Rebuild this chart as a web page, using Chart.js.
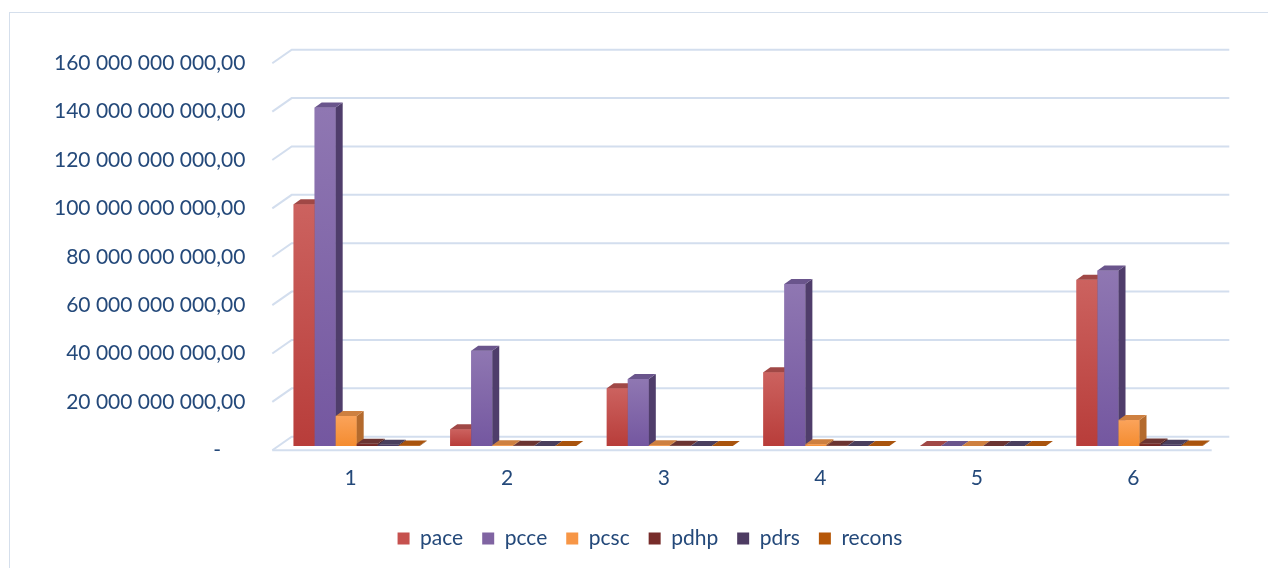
<!DOCTYPE html>
<html><head><meta charset="utf-8">
<script src="https://cdn.jsdelivr.net/npm/chart.js@4"></script>
<style>html,body{margin:0;padding:0;background:#fff;overflow:hidden}</style>
</head><body>
<canvas id="c" width="1268" height="568"></canvas>
<script>
// ---- data ----
const categories = ['1', '2', '3', '4', '5', '6'];
const seriesNames = ['pace', 'pcce', 'pcsc', 'pdhp', 'pdrs', 'recons'];
const pace   = [100.0e9, 6.9e9, 23.9e9, 30.5e9, 0, 68.7e9];
const pcce   = [140.0e9, 39.4e9, 27.7e9, 67.0e9, 0, 72.6e9];
const pcsc   = [12.4e9, 0.3e9, 0.3e9, 0.7e9, 0, 10.7e9];
const pdhp   = [0.9e9, 0.1e9, 0.1e9, 0.1e9, 0, 1.0e9];
const pdrs   = [0.5e9, 0.05e9, 0.05e9, 0.05e9, 0, 0.5e9];
const recons = [0.2e9, 0.05e9, 0.05e9, 0.05e9, 0, 0.2e9];
const yTicks = [0, 20e9, 40e9, 60e9, 80e9, 100e9, 120e9, 140e9, 160e9];
const seriesValues = [pace, pcce, pcsc, pdhp, pdrs, recons];

// ---- styles ----
const legendColors = ['#C6514E', '#8064A2', '#F79646', '#772C2A', '#4D3B62', '#B65708'];
const frontLight   = ['#CC625F', '#8F77B2', '#FBA35A', '#80302D', '#54416D', '#BE5E0E'];
const frontDark    = ['#B83D3A', '#7457A0', '#F48C30', '#6E2624', '#45355C', '#AE5208'];
const sideColors   = ['#8E3533', '#4F3D6B', '#B46A2D', '#4F1E1C', '#30253F', '#7A3A05'];
const topColors    = ['#A04846', '#6A558C', '#CE8040', '#6B3432', '#4A3F5E', '#A9540E'];
const TEXT = '#24497A';
const GRID = '#D3DEEE';
const FONT = {family: 'Lato', size: 21};
const DX = 7, DY = 5;
const LEGEND_SHIFT = 41;

function fmt(v) {
  if (v === 0) return '-\u2007\u2007';
  const s = Math.round(v).toString().replace(/\B(?=(\d{3})+(?!\d))/g, ' ');
  return s + ',00';
}

function grad(i) {
  return (c) => {
    if (c.type !== 'data' || !c.chart.scales || !c.chart.scales.y || !c.parsed) return legendColors[i];
    const ys = c.chart.scales.y;
    const yT = ys.getPixelForValue(c.parsed.y);
    const yB = ys.getPixelForValue(0);
    if (!Number.isFinite(yT) || !Number.isFinite(yB)) return legendColors[i];
    const g = c.chart.ctx.createLinearGradient(0, yT, 0, Math.max(yB, yT + 1));
    g.addColorStop(0, frontLight[i]);
    g.addColorStop(1, frontDark[i]);
    return g;
  };
}

const frame = {
  id: 'frame',
  afterLayout(chart) {
    if (chart.legend) {
      chart.legend.left += LEGEND_SHIFT;
      chart.legend.right += LEGEND_SHIFT;
    }
  },
  beforeDraw(chart) {
    const ctx = chart.ctx;
    ctx.save();
    ctx.fillStyle = '#fff';
    ctx.fillRect(0, 0, chart.width, chart.height);
    ctx.strokeStyle = '#D5DFEC';
    ctx.lineWidth = 1;
    ctx.strokeRect(9.5, 12.5, 1300, 600);
    ctx.restore();
  },
  beforeDatasetsDraw(chart) {
    const ctx = chart.ctx, ys = chart.scales.y, a = chart.chartArea;
    ctx.save();
    ctx.strokeStyle = GRID;
    ctx.lineWidth = 2;
    yTicks.forEach(v => {
      const y = ys.getPixelForValue(v);
      ctx.beginPath();
      ctx.moveTo(a.left - 6.1, y + 4.3);
      ctx.lineTo(a.left + 13.3, y - 9.3);
      ctx.lineTo(a.right + 11.5, y - 9.3);
      ctx.stroke();
    });
    const y0 = ys.getPixelForValue(0);
    ctx.beginPath();
    ctx.moveTo(a.left - 6.1, y0 + 4.3);
    ctx.lineTo(a.right - 6.1, y0 + 4.3);
    ctx.stroke();
    ctx.restore();
  },
  afterDatasetsDraw(chart) {
    const ctx = chart.ctx;
    const base = chart.scales.y.getPixelForValue(0);
    ctx.save();
    for (let i = 0; i < seriesNames.length; i++) {
      const meta = chart.getDatasetMeta(i);
      meta.data.forEach(bar => {
        const p = bar.getProps(['x', 'y', 'width'], true);
        const x1 = p.x - p.width / 2, x2 = p.x + p.width / 2, y = p.y;
        bar.draw(ctx);
        ctx.fillStyle = sideColors[i];
        ctx.beginPath();
        ctx.moveTo(x2, y); ctx.lineTo(x2 + DX, y - DY);
        ctx.lineTo(x2 + DX, base - DY); ctx.lineTo(x2, base);
        ctx.closePath(); ctx.fill();
        ctx.fillStyle = topColors[i];
        ctx.beginPath();
        ctx.moveTo(x1, y); ctx.lineTo(x2, y);
        ctx.lineTo(x2 + DX, y - DY); ctx.lineTo(x1 + DX, y - DY);
        ctx.closePath(); ctx.fill();
      });
    }
    ctx.restore();
  }
};

new Chart(document.getElementById('c'), {
  type: 'bar',
  data: {
    labels: categories,
    datasets: seriesNames.map((n, i) => ({
      label: n,
      data: seriesValues[i],
      backgroundColor: grad(i),
      borderWidth: 0,
      categoryPercentage: 0.805,
      barPercentage: 1
    }))
  },
  options: {
    responsive: false,
    animation: false,
    devicePixelRatio: 1,
    layout: {padding: {left: 0, right: 50.2, top: 59, bottom: 9}},
    scales: {
      x: {
        grid: {display: false, drawTicks: false},
        border: {display: false},
        ticks: {font: FONT, color: TEXT, padding: 20, labelOffset: -6.1},
        afterFit(s) { s.height = 63; }
      },
      y: {
        min: 0, max: 160e9,
        grid: {display: false, drawTicks: false},
        border: {display: false},
        afterBuildTicks(s) { s.ticks = yTicks.map(v => ({value: v})); },
        ticks: {font: FONT, color: TEXT, padding: 33, labelOffset: 4.3, callback: fmt},
        afterFit(s) { s.width = 278.4; }
      }
    },
    plugins: {
      legend: {
        position: 'bottom',
        labels: {
          boxWidth: 12, boxHeight: 12, padding: 19, font: FONT, color: TEXT,
          generateLabels(chart) {
            const items = Chart.defaults.plugins.legend.labels.generateLabels(chart);
            items.forEach(it => { it.fillStyle = legendColors[it.datasetIndex]; it.strokeStyle = 'rgba(0,0,0,0)'; it.lineWidth = 0; });
            return items;
          }
        }
      },
      tooltip: {enabled: false}
    }
  },
  plugins: [frame]
});
</script>
</body></html>
